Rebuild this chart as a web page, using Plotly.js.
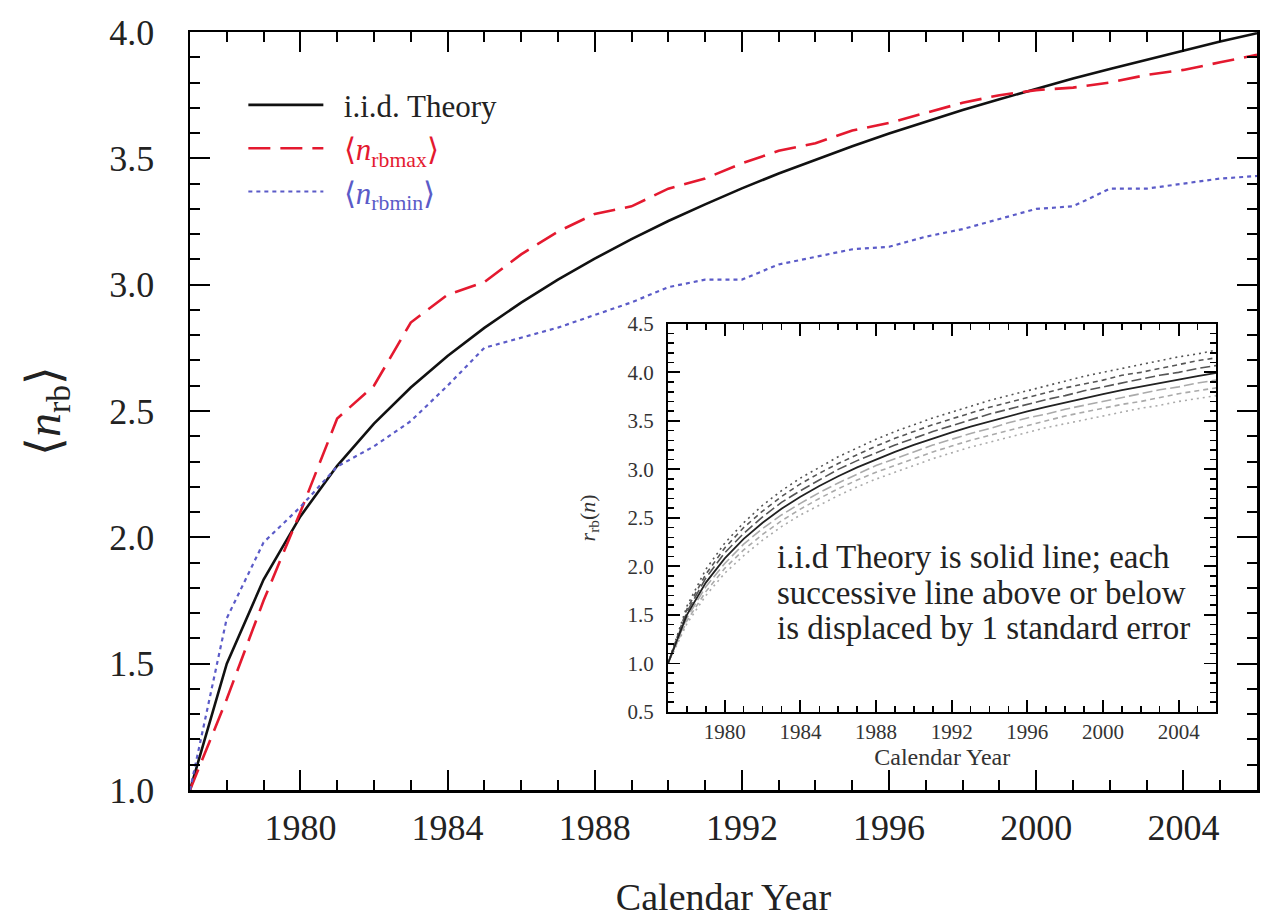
<!DOCTYPE html>
<html>
<head>
<meta charset="utf-8">
<script src="https://cdn.plot.ly/plotly-3.0.1.min.js"></script>
<style>html,body{margin:0;padding:0;background:#fff;}#chart{width:1275px;height:918px;}</style>
</head>
<body>
<div id="chart"></div>
<script>
const years = [1977,1978,1979,1980,1981,1982,1983,1984,1985,1986,1987,1988,1989,1990,1991,1992,1993,1994,1995,1996,1997,1998,1999,2000,2001,2002,2003,2004,2005,2006];

// i.i.d. theory
const theory = [1.000,1.500,1.833,2.083,2.283,2.450,2.593,2.718,2.829,2.929,3.020,3.103,3.180,3.252,3.318,3.381,3.440,3.495,3.548,3.598,3.645,3.691,3.734,3.776,3.816,3.854,3.891,3.927,3.962,3.995];
// <n_rbmax>
const rbmax = [1.00,1.36,1.75,2.10,2.47,2.60,2.85,2.96,3.01,3.12,3.21,3.28,3.31,3.38,3.42,3.48,3.53,3.56,3.61,3.64,3.68,3.72,3.75,3.77,3.78,3.80,3.83,3.85,3.88,3.91];
// <n_rbmin>
const rbmin = [1.00,1.68,1.98,2.12,2.28,2.36,2.46,2.60,2.75,2.79,2.83,2.88,2.93,2.99,3.02,3.02,3.08,3.11,3.14,3.15,3.19,3.22,3.26,3.30,3.31,3.38,3.38,3.40,3.42,3.43];

// inset: lines displaced by standard errors
const plus1 = [1.00,1.53,1.88,2.14,2.34,2.51,2.66,2.78,2.89,3.00,3.09,3.17,3.25,3.32,3.39,3.45,3.51,3.57,3.62,3.67,3.72,3.76,3.81,3.85,3.89,3.93,3.97,4.00,4.04,4.07];
const plus2 = [1.00,1.56,1.92,2.19,2.40,2.57,2.72,2.85,2.96,3.06,3.15,3.24,3.32,3.39,3.46,3.52,3.58,3.64,3.69,3.74,3.79,3.84,3.88,3.92,3.97,4.00,4.04,4.08,4.12,4.15];
const plus3 = [1.00,1.59,1.97,2.24,2.45,2.63,2.78,2.91,3.02,3.13,3.22,3.31,3.39,3.46,3.53,3.59,3.65,3.71,3.76,3.81,3.86,3.91,3.96,4.00,4.04,4.08,4.12,4.16,4.19,4.23];
const minus1 = [1.00,1.47,1.79,2.03,2.23,2.39,2.53,2.65,2.76,2.86,2.95,3.04,3.11,3.18,3.25,3.31,3.37,3.42,3.48,3.53,3.57,3.62,3.66,3.70,3.74,3.78,3.82,3.85,3.89,3.92];
const minus2 = [1.00,1.44,1.74,1.98,2.17,2.33,2.47,2.59,2.70,2.80,2.89,2.97,3.04,3.11,3.18,3.24,3.30,3.35,3.40,3.45,3.50,3.55,3.59,3.63,3.67,3.70,3.74,3.78,3.81,3.84];
const minus3 = [1.00,1.41,1.70,1.93,2.11,2.27,2.41,2.53,2.63,2.73,2.82,2.90,2.97,3.04,3.11,3.17,3.23,3.28,3.33,3.38,3.43,3.47,3.51,3.55,3.59,3.63,3.66,3.70,3.73,3.76];

const NB = '\u00a0\u00a0';
const legendNames = [NB + 'i.i.d. Theory',
  NB + '<span style="color:#e4192f">⟨<i>n</i><sub>rbmax</sub>⟩</span>',
  NB + '<span style="color:#5b5bc8">⟨<i>n</i><sub>rbmin</sub>⟩</span>'];
const insetNoteLines = ['i.i.d Theory is solid line; each', 'successive line above or below', 'is displaced by 1 standard error'];

const FONT = 'Liberation Serif, Times New Roman, serif';

const traces = [
  {x: years, y: theory, name: legendNames[0], mode: 'lines', line: {color: '#111', width: 2.6}, xaxis: 'x', yaxis: 'y'},
  {x: years, y: rbmax, name: legendNames[1], mode: 'lines', line: {color: '#e4192f', width: 2.6, dash: '22px,10px'}, xaxis: 'x', yaxis: 'y'},
  {x: years, y: rbmin, name: legendNames[2], mode: 'lines', line: {color: '#5b5bc8', width: 2.2, dash: '4px,4px'}, xaxis: 'x', yaxis: 'y'},
  {x: years, y: plus3, mode: 'lines', showlegend: false, line: {color: '#555', width: 1.6, dash: '2px,4px'}, xaxis: 'x2', yaxis: 'y2'},
  {x: years, y: plus2, mode: 'lines', showlegend: false, line: {color: '#555', width: 1.6, dash: '5px,4px'}, xaxis: 'x2', yaxis: 'y2'},
  {x: years, y: plus1, mode: 'lines', showlegend: false, line: {color: '#555', width: 1.6, dash: '10px,4px'}, xaxis: 'x2', yaxis: 'y2'},
  {x: years, y: minus1, mode: 'lines', showlegend: false, line: {color: '#aaa', width: 1.6, dash: '10px,4px'}, xaxis: 'x2', yaxis: 'y2'},
  {x: years, y: minus2, mode: 'lines', showlegend: false, line: {color: '#aaa', width: 1.6, dash: '5px,4px'}, xaxis: 'x2', yaxis: 'y2'},
  {x: years, y: minus3, mode: 'lines', showlegend: false, line: {color: '#aaa', width: 1.6, dash: '2px,4px'}, xaxis: 'x2', yaxis: 'y2'},
  {x: years, y: theory, mode: 'lines', showlegend: false, line: {color: '#222', width: 1.8}, xaxis: 'x2', yaxis: 'y2'}
];

const mainAxisCommon = {
  showline: true, linecolor: '#000', linewidth: 2.5, mirror: 'ticks',
  ticks: 'inside', ticklen: 20, tickwidth: 2, tickcolor: '#000',
  showgrid: false, zeroline: false,
  tickfont: {family: FONT, size: 36, color: '#222'}
};
const insetAxisCommon = {
  showline: true, linecolor: '#000', linewidth: 2, mirror: 'ticks',
  ticks: 'inside', ticklen: 12, tickwidth: 1.8, tickcolor: '#000',
  showgrid: false, zeroline: false,
  tickfont: {family: FONT, size: 21, color: '#333'}
};

const noteY = [0.308, 0.26, 0.214];
const annotations = insetNoteLines.map((t, i) => ({
  text: t, xref: 'paper', yref: 'paper', x: 0.548, y: noteY[i],
  xanchor: 'left', yanchor: 'middle', align: 'left', showarrow: false,
  font: {family: FONT, size: 33, color: '#222'}
}));

const layout = {
  width: 1275, height: 918,
  margin: {l: 190, r: 18, t: 32, b: 128},
  paper_bgcolor: '#fff', plot_bgcolor: 'rgba(0,0,0,0)',
  font: {family: FONT, color: '#222'},
  showlegend: true,
  legend: {x: 0.05, y: 0.939, xanchor: 'left', yanchor: 'top', bgcolor: 'rgba(0,0,0,0)',
           font: {family: FONT, size: 31, color: '#222'}, itemwidth: 75, tracegroupgap: 0},
  xaxis: Object.assign({}, mainAxisCommon, {
    range: [1977, 2006], tickmode: 'linear', tick0: 1980, dtick: 4, ticklabelstandoff: 4,
    minor: {tick0: 1977, dtick: 1, ticks: 'inside', ticklen: 10, tickwidth: 2, tickcolor: '#000', showgrid: false},
    title: {text: 'Calendar Year', font: {family: FONT, size: 38, color: '#222'}, standoff: 44},
    anchor: 'y', domain: [0, 1]
  }),
  yaxis: Object.assign({}, mainAxisCommon, {
    range: [1, 4], tickmode: 'linear', tick0: 1, dtick: 0.5, tickformat: '.1f', ticklabelstandoff: 26,
    minor: {tick0: 1, dtick: 0.1, ticks: 'inside', ticklen: 10, tickwidth: 2, tickcolor: '#000', showgrid: false},
    title: {text: '⟨<i>n</i><sub>rb</sub>⟩', font: {family: FONT, size: 48, color: '#222'}, standoff: 34},
    anchor: 'x', domain: [0, 1]
  }),
  xaxis2: Object.assign({}, insetAxisCommon, {
    range: [1977, 2006], tickmode: 'linear', tick0: 1980, dtick: 4,
    minor: {tick0: 1977, dtick: 1, ticks: 'inside', ticklen: 6, tickwidth: 1.5, tickcolor: '#000', showgrid: false},
    title: {text: 'Calendar Year', font: {family: FONT, size: 24, color: '#333'}, standoff: 0},
    anchor: 'y2', domain: [0.448, 0.962]
  }),
  yaxis2: Object.assign({}, insetAxisCommon, {
    range: [0.5, 4.5], tickmode: 'linear', tick0: 0.5, dtick: 0.5, tickformat: '.1f', ticklabelstandoff: 8,
    minor: {tick0: 0.5, dtick: 0.1, ticks: 'inside', ticklen: 6, tickwidth: 1.5, tickcolor: '#000', showgrid: false},
    title: {text: '<i>r</i><sub>rb</sub>(<i>n</i>)', font: {family: FONT, size: 22, color: '#333'}, standoff: 26},
    anchor: 'x2', domain: [0.103, 0.615]
  }),
  annotations: annotations
};

Plotly.newPlot('chart', traces, layout, {displayModeBar: false, staticPlot: true});
</script>
</body>
</html>
